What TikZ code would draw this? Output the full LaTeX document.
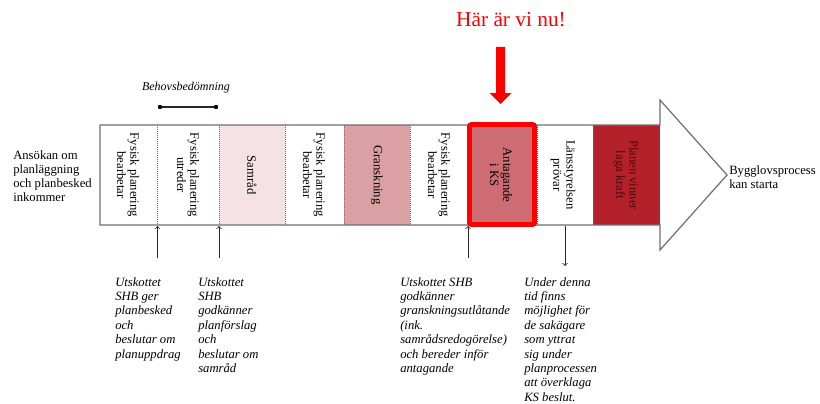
\documentclass[tikz,border=0pt]{standalone}
\usepackage{fontspec}
\setmainfont{Liberation Serif}
\usepackage{tikz}
\definecolor{samradcol}{RGB}{245,226,229}
\definecolor{granskcol}{RGB}{218,160,164}
\definecolor{antacol}{RGB}{205,108,114}
\definecolor{kraftcol}{RGB}{180,33,42}
\definecolor{krafttext}{RGB}{75,10,14}
\definecolor{gris}{RGB}{110,110,110}
\tikzset{
  fas/.style={rotate=-90, align=center, inner sep=0pt, font=\fontsize{9.5}{10}\selectfont},
  notis/.style={anchor=north west, align=left, inner sep=0pt, font=\fontsize{9.5}{10.8}\selectfont\itshape},
  pil/.style={->, >=to, line width=0.6pt, black!85}
}

\begin{document}
\begin{tikzpicture}[x=0.75pt,y=-0.75pt]
    \useasboundingbox (0,0) rectangle (820,403);

    % Fyll de markerade faserna
    \fill[samradcol] (219,125) rectangle (285,225);
    \fill[granskcol] (344,125) rectangle (410,225);
    \fill[antacol] (469,125) rectangle (537,225);
    \fill[kraftcol] (593,125) rectangle (660,225);

    % Streckade gränser mellan faserna
    \foreach \x in {157,219,285,344,410,469,537,593}
        \draw[gris, densely dotted, line width=0.5pt] (\x,125) -- (\x,225);

    % Den stora pilen
    \draw[gris, line width=0.9pt] (100,125) -- (660,125) -- (660,100) -- (727,175)
        -- (660,250) -- (660,225) -- (100,225) -- cycle;

    % Ram runt nuvarande fas
    \draw[red, line width=3.6pt, rounded corners=1.5pt] (469.5,124.5) rectangle (534.5,224.5);

    % Text i faserna
    \node[fas] (fas1) at (128,175) {Fysisk planering\\bearbetar};
    \node[fas] (fas2) at (188,175) {Fysisk planering\\utreder};
    \node[fas] (fas3) at (252,175) {Samråd};
    \node[fas] (fas4) at (314,175) {Fysisk planering\\bearbetar};
    \node[fas] (fas5) at (377,175) {Granskning};
    \node[fas] (fas6) at (439,175) {Fysisk planering\\bearbetar};
    \node[fas] (fas7) at (501,175) {Antagande\\i KS};
    \node[fas] (fas8) at (563,175) {Länsstyrelsen\\prövar};
    \node[fas, text=krafttext] (fas9) at (626,175) {Planen vinner\\laga kraft};

    % Start och slut
    \node[anchor=west, align=left, inner sep=0pt, font=\fontsize{9.5}{10.5}\selectfont]
        (start) at (13,176) {Ansökan om\\planläggning\\och planbesked\\inkommer};
    \node[anchor=west, align=left, inner sep=0pt, font=\fontsize{9.5}{10}\selectfont]
        (slut) at (729,177) {Bygglovsprocess\\kan starta};

    % Behovsbedömning
    \node[font=\fontsize{9}{10}\selectfont\itshape] (behov) at (186,88) {Behovsbedömning};
    \coordinate (bh1) at (160,107);
    \coordinate (bh2) at (216,107);
    \draw[black!85, line width=0.8pt] (bh1) -- (bh2);
    \fill[black] (bh1) circle (2.2);
    \fill[black] (bh2) circle (2.2);

    % Här är vi nu
    \node[red, font=\fontsize{16}{18}\selectfont] (nu) at (511,20) {Här är vi nu!};
    \fill[red] (496,47) -- (505,47) -- (505,93) -- (511.5,93) -- (500.5,104)
        -- (489.5,93) -- (496,93) -- cycle;

    % Beslut under pilen
    \node[notis] (beslut1) at (115,277) {Utskottet\\SHB ger\\planbesked\\och\\beslutar om\\planuppdrag};
    \node[notis] (beslut2) at (198,277) {Utskottet\\SHB\\godkänner\\planförslag\\och\\beslutar om\\samråd};
    \node[notis] (beslut3) at (400,277) {Utskottet SHB\\godkänner\\granskningsutlåtande\\(ink.\\samrådsredogörelse)\\och bereder inför\\antagande};
    \node[notis] (beslut4) at (524,277) {Under denna\\tid finns\\möjlighet för\\de sakägare\\som yttrat\\sig under\\planprocessen\\att överklaga\\KS beslut.};

    % Pilar till och från tidslinjen
    \coordinate (u1) at (157.5,258);
    \coordinate (t1) at (157.5,226);
    \coordinate (u2) at (219,258);
    \coordinate (t2) at (219,226);
    \coordinate (u3) at (468,258);
    \coordinate (t3) at (468,226);
    \coordinate (t4) at (565,226);
    \coordinate (u4) at (565,266);
    \draw[pil] (u1) -- (t1);
    \draw[pil] (u2) -- (t2);
    \draw[pil] (u3) -- (t3);
    \draw[pil] (t4) -- (u4);

\end{tikzpicture}
\end{document}
